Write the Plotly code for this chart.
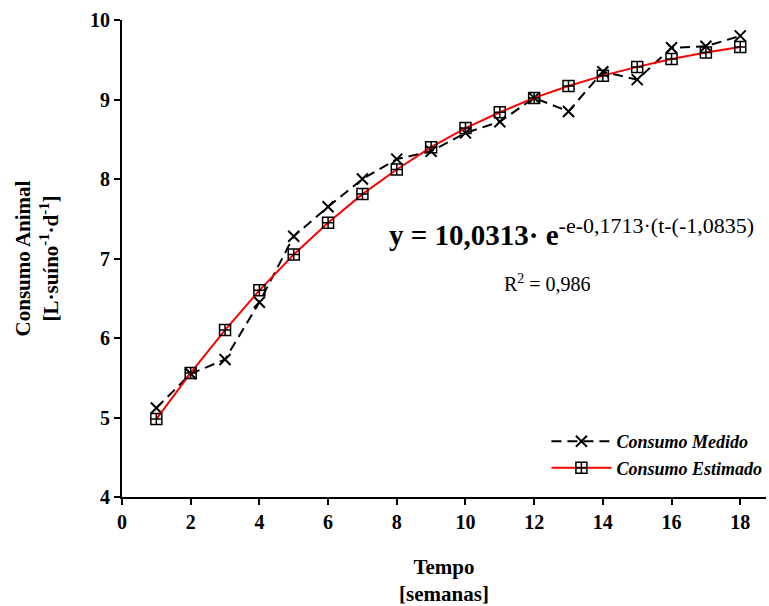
import plotly.graph_objects as go

tempo = list(range(1, 19))
consumo_medido = [5.12, 5.55, 5.73, 6.45, 7.28, 7.65, 8.00, 8.25, 8.35, 8.58, 8.72, 9.02,
                  8.85, 9.35, 9.25, 9.65, 9.67, 9.80]
consumo_estimado = [4.98, 5.56, 6.10, 6.60, 7.05, 7.45, 7.81, 8.12, 8.40, 8.64, 8.84, 9.02,
                    9.17, 9.30, 9.41, 9.51, 9.59, 9.66]
x_ticks = [0, 2, 4, 6, 8, 10, 12, 14, 16, 18]
y_ticks = [4, 5, 6, 7, 8, 9, 10]

SERIF = "Liberation Serif"

fig = go.Figure()
fig.add_trace(go.Scatter(
    x=tempo, y=consumo_medido, mode="lines+markers", name="Consumo Medido",
    line=dict(color="black", width=2, dash="10px,6px"),
    marker=dict(symbol="x-thin-open", size=11, color="black", line=dict(color="black", width=2)),
))
fig.add_trace(go.Scatter(
    x=tempo, y=consumo_estimado, mode="lines+markers", name="Consumo Estimado",
    line=dict(color="#ff0000", width=2),
    marker=dict(symbol="square-cross-open", size=11, color="black", line=dict(color="black", width=1.5)),
))

fig.add_annotation(
    x=13.1, y=7.33, xref="x", yref="y", showarrow=False,
    text="y = 10,0313· e<sup><span style='font-weight:normal;font-size:22px'>-e-0,1713·(t-(-1,0835)</span></sup>",
    font=dict(family=SERIF, size=29, color="black", weight="bold"),
)
fig.add_annotation(
    x=12.4, y=6.69, xref="x", yref="y", showarrow=False,
    text="R<sup>2</sup> = 0,986",
    font=dict(family=SERIF, size=20, color="black"),
)

fig.update_layout(
    width=769, height=606,
    margin=dict(l=122, r=2, t=20, b=109),
    plot_bgcolor="white", paper_bgcolor="white",
    showlegend=True,
    legend=dict(x=0.658, y=0.155, xanchor="left", yanchor="top",
                font=dict(family=SERIF, size=18, color="black", style="italic", weight="bold"),
                bgcolor="rgba(0,0,0,0)", itemwidth=60, tracegroupgap=0),
    font=dict(family=SERIF, color="black"),
)
fig.update_xaxes(
    range=[0, 18.75], tickvals=x_ticks, showline=True, linecolor="black", linewidth=2,
    ticks="outside", ticklen=6, tickwidth=2, tickcolor="black", showgrid=False, zeroline=False,
    tickfont=dict(family=SERIF, size=20, color="black", weight="bold"),
    title=dict(text="Tempo<br>[semanas]", font=dict(family=SERIF, size=21, color="black", weight="bold"), standoff=30),
)
fig.update_yaxes(
    range=[4, 10], tickvals=y_ticks, showline=True, linecolor="black", linewidth=2,
    ticks="outside", ticklen=6, tickwidth=2, tickcolor="black", showgrid=False, zeroline=False,
    tickfont=dict(family=SERIF, size=20, color="black", weight="bold"),
    title=dict(text="Consumo Animal<br>[L·suíno<sup>-1</sup>·d<sup>-1</sup>]",
               font=dict(family=SERIF, size=21, color="black", weight="bold"), standoff=26),
)

fig.write_html("out.html")
